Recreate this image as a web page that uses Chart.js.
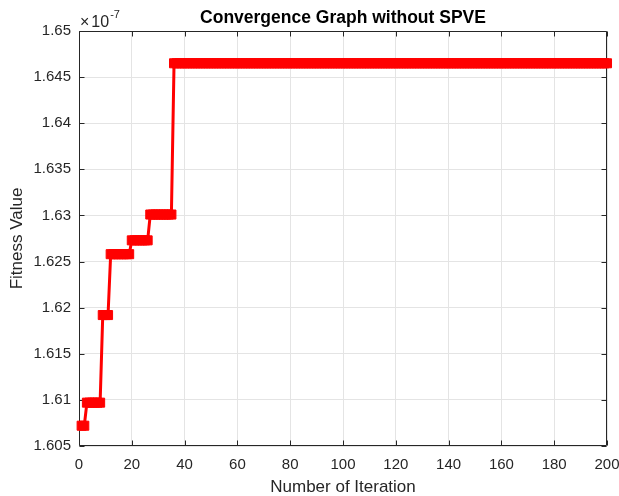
<!DOCTYPE html>
<html>
<head>
<meta charset="utf-8">
<script src="https://cdn.jsdelivr.net/npm/chart.js@4.4.0/dist/chart.umd.min.js"></script>
<style>
  html, body { margin: 0; padding: 0; background: #ffffff; }
  canvas { display: block; }
</style>
</head>
<body>
<canvas id="c" width="619" height="496"></canvas>
<script>
// ---- data (fitness values in units of 1e-7) ----
const iterations = Array.from({ length: 200 }, (_, i) => i + 1);
const fitnessValues = [
  1.6072, 1.6072,
  1.6097, 1.6097, 1.6097, 1.6097, 1.6097, 1.6097,
  1.6192, 1.6192, 1.6192,
  1.6258, 1.6258, 1.6258, 1.6258, 1.6258, 1.6258, 1.6258, 1.6258,
  1.6273, 1.6273, 1.6273, 1.6273, 1.6273, 1.6273, 1.6273,
  1.6301, 1.6301, 1.6301, 1.6301, 1.6301, 1.6301, 1.6301, 1.6301, 1.6301,
  1.6465, 1.6465, 1.6465, 1.6465, 1.6465, 1.6465, 1.6465, 1.6465, 1.6465, 1.6465, 1.6465, 1.6465, 1.6465, 1.6465, 1.6465,
  1.6465, 1.6465, 1.6465, 1.6465, 1.6465, 1.6465, 1.6465, 1.6465, 1.6465, 1.6465, 1.6465, 1.6465, 1.6465, 1.6465, 1.6465,
  1.6465, 1.6465, 1.6465, 1.6465, 1.6465, 1.6465, 1.6465, 1.6465, 1.6465, 1.6465, 1.6465, 1.6465, 1.6465, 1.6465, 1.6465,
  1.6465, 1.6465, 1.6465, 1.6465, 1.6465, 1.6465, 1.6465, 1.6465, 1.6465, 1.6465, 1.6465, 1.6465, 1.6465, 1.6465, 1.6465,
  1.6465, 1.6465, 1.6465, 1.6465, 1.6465, 1.6465, 1.6465, 1.6465, 1.6465, 1.6465, 1.6465, 1.6465, 1.6465, 1.6465, 1.6465,
  1.6465, 1.6465, 1.6465, 1.6465, 1.6465, 1.6465, 1.6465, 1.6465, 1.6465, 1.6465, 1.6465, 1.6465, 1.6465, 1.6465, 1.6465,
  1.6465, 1.6465, 1.6465, 1.6465, 1.6465, 1.6465, 1.6465, 1.6465, 1.6465, 1.6465, 1.6465, 1.6465, 1.6465, 1.6465, 1.6465,
  1.6465, 1.6465, 1.6465, 1.6465, 1.6465, 1.6465, 1.6465, 1.6465, 1.6465, 1.6465, 1.6465, 1.6465, 1.6465, 1.6465, 1.6465,
  1.6465, 1.6465, 1.6465, 1.6465, 1.6465, 1.6465, 1.6465, 1.6465, 1.6465, 1.6465, 1.6465, 1.6465, 1.6465, 1.6465, 1.6465,
  1.6465, 1.6465, 1.6465, 1.6465, 1.6465, 1.6465, 1.6465, 1.6465, 1.6465, 1.6465, 1.6465, 1.6465, 1.6465, 1.6465, 1.6465,
  1.6465, 1.6465, 1.6465, 1.6465, 1.6465, 1.6465, 1.6465, 1.6465, 1.6465, 1.6465, 1.6465, 1.6465, 1.6465, 1.6465, 1.6465
];
const xTickValues = [0, 20, 40, 60, 80, 100, 120, 140, 160, 180, 200];
const yTickValues = [1.605, 1.61, 1.615, 1.62, 1.625, 1.63, 1.635, 1.64, 1.645, 1.65];
const titleText = 'Convergence Graph without SPVE';
const xTitle = 'Number of Iteration';
const yTitle = 'Fitness Value';
const exponentPower = '-7';

const FONT = '"Liberation Sans", Arial, Helvetica, sans-serif';
const AXIS_COLOR = '#262626';

const boxPlugin = {
  id: 'matlabBox',
  beforeDatasetsDraw(chart) {
    const { ctx, chartArea: { left, right, top, bottom }, scales: { x, y } } = chart;
    ctx.save();
    ctx.strokeStyle = AXIS_COLOR;
    ctx.lineWidth = 1;
    const L = Math.round(left) + 0.5, R = Math.round(right) - 0.5;
    const T = Math.round(top) + 0.5, B = Math.round(bottom) - 0.5;
    ctx.beginPath();
    ctx.rect(L, T, R - L, B - T);
    ctx.stroke();
    const tl = 5;
    ctx.beginPath();
    x.ticks.forEach(t => {
      const px = Math.round(x.getPixelForValue(t.value)) + 0.5;
      ctx.moveTo(px, B); ctx.lineTo(px, B - tl);
      ctx.moveTo(px, T); ctx.lineTo(px, T + tl);
    });
    y.ticks.forEach(t => {
      const py = Math.round(y.getPixelForValue(t.value)) + 0.5;
      ctx.moveTo(L, py); ctx.lineTo(L + tl, py);
      ctx.moveTo(R, py); ctx.lineTo(R - tl, py);
    });
    ctx.stroke();
    ctx.restore();
  },
  afterDraw(chart) {
    const { ctx, chartArea: { left, right } } = chart;
    ctx.save();
    // title centred over the plot area
    ctx.fillStyle = '#000000';
    ctx.textBaseline = 'alphabetic';
    ctx.textAlign = 'center';
    ctx.font = 'bold 17.5px ' + FONT;
    ctx.fillText(titleText, (left + right) / 2, 23);
    // axis exponent
    ctx.fillStyle = AXIS_COLOR;
    ctx.textAlign = 'left';
    ctx.font = '16px ' + FONT;
    ctx.fillText('\u00d7', left + 1, 27);
    const w1 = ctx.measureText('\u00d7').width;
    ctx.fillText('10', left + 1 + w1 + 2, 27);
    const w2 = ctx.measureText('10').width;
    ctx.font = '11px ' + FONT;
    ctx.fillText(exponentPower, left + 1 + w1 + 2 + w2 + 1, 18);
    ctx.restore();
  }
};

new Chart(document.getElementById('c'), {
  type: 'line',
  data: {
    datasets: [{
      data: iterations.map((it, i) => ({ x: it, y: fitnessValues[i] })),
      borderColor: '#ff0000',
      backgroundColor: '#ff0000',
      borderWidth: 3,
      pointStyle: 'rect',
      pointRadius: 6.4,
      pointHoverRadius: 6.4,
      pointBorderWidth: 1,
      pointBackgroundColor: '#ff0000',
      pointBorderColor: '#ff0000',
      tension: 0,
      clip: false
    }]
  },
  options: {
    responsive: false,
    animation: false,
    devicePixelRatio: 1,
    events: [],
    layout: { padding: { left: 0, right: 12, top: 31, bottom: 0 } },
    plugins: {
      legend: { display: false },
      tooltip: { enabled: false },
      title: { display: false }
    },
    scales: {
      x: {
        type: 'linear',
        min: 0, max: 200,
        afterBuildTicks(scale) { scale.ticks = xTickValues.map(v => ({ value: v })); },
        afterFit(scale) { scale.height = 50; scale.paddingRight = 0; scale.paddingLeft = 0; },
        ticks: {
          color: AXIS_COLOR,
          font: { family: FONT, size: 15 },
          padding: 10,
          maxRotation: 0,
          autoSkip: false,
          callback: v => String(v)
        },
        grid: { color: '#e4e4e4', lineWidth: 1, drawTicks: false },
        border: { display: false },
        title: {
          display: true,
          text: xTitle,
          color: AXIS_COLOR,
          font: { family: FONT, size: 17, lineHeight: 1 },
          padding: { top: 0, bottom: 0 }
        }
      },
      y: {
        type: 'linear',
        min: 1.605, max: 1.65,
        afterBuildTicks(scale) { scale.ticks = yTickValues.map(v => ({ value: v })); },
        afterFit(scale) { scale.width = 79; scale.paddingTop = 0; scale.paddingBottom = 0; },
        ticks: {
          color: AXIS_COLOR,
          font: { family: FONT, size: 15 },
          padding: 8,
          autoSkip: false,
          callback: v => String(parseFloat(Number(v).toFixed(3)))
        },
        grid: { color: '#e4e4e4', lineWidth: 1, drawTicks: false },
        border: { display: false },
        title: {
          display: true,
          text: yTitle,
          color: AXIS_COLOR,
          font: { family: FONT, size: 17 },
          padding: { top: 7, bottom: 0 }
        }
      }
    }
  },
  plugins: [boxPlugin]
});
</script>
</body>
</html>
